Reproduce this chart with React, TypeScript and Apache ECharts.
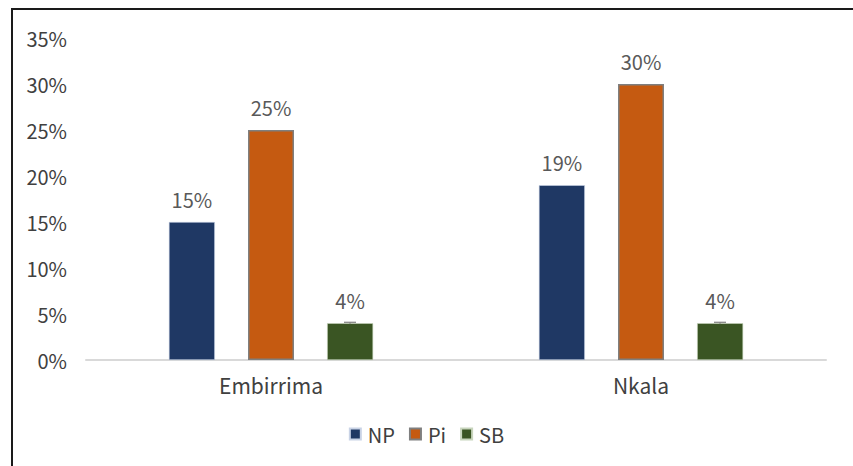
import React, { useEffect, useRef } from "react";
import * as echarts from "echarts";

const categories = ["Embirrima", "Nkala"];
const npValues = [15, 19];
const piValues = [25, 30];
const sbValues = [4, 4];
const sbErrors = [0.1, 0.1];
const yTicks = [0, 5, 10, 15, 20, 25, 30, 35];

const FONT = "'Noto Sans CJK SC', 'Noto Sans', sans-serif";

export default function App() {
  const ref = useRef<HTMLDivElement>(null);

  useEffect(() => {
    if (!ref.current) return;
    const chart = echarts.init(ref.current, undefined, { renderer: "svg" });

    const labelStyle = {
      show: true,
      position: "top" as const,
      distance: 13,
      formatter: "{c}%",
      color: "#595959",
      fontSize: 20,
      fontFamily: FONT,
    };

    chart.setOption({
      animation: false,
      backgroundColor: "#ffffff",
      graphic: [
        {
          type: "rect",
          shape: { x: 12, y: 9, width: 900, height: 500 },
          style: { fill: "none", stroke: "#1a1a1a", lineWidth: 2 },
          silent: true,
        },
      ],
      legend: {
        bottom: 17,
        left: "center",
        icon: "rect",
        itemWidth: 11,
        itemHeight: 11,
        itemGap: 14,
        textStyle: { color: "#404040", fontSize: 20, fontFamily: FONT, padding: [0, 0, 0, 2] },
        data: ["NP", "Pi", "SB"],
      },
      grid: { left: 86, right: 27, top: 38, bottom: 106 },
      xAxis: {
        type: "category",
        data: categories,
        axisLine: { lineStyle: { color: "#d9d9d9", width: 2 } },
        axisTick: { show: false },
        axisLabel: { color: "#404040", fontSize: 21, fontFamily: FONT, margin: 14 },
      },
      yAxis: {
        type: "value",
        min: yTicks[0],
        max: yTicks[yTicks.length - 1],
        interval: 5,
        splitLine: { show: false },
        axisLine: { show: false },
        axisTick: { show: false },
        axisLabel: {
          formatter: "{value}%",
          color: "#404040",
          fontSize: 20,
          fontFamily: FONT,
          margin: 19,
        },
      },
      series: [
        {
          name: "NP",
          type: "bar",
          data: npValues,
          barWidth: 46,
          barGap: "72%",
          itemStyle: { color: "#1f3864", borderColor: "#c9d3e6", borderWidth: 0.6 },
          label: labelStyle,
        },
        {
          name: "Pi",
          type: "bar",
          data: piValues,
          barWidth: 46,
          barGap: "72%",
          itemStyle: { color: "#c55a11", borderColor: "#7f7f7f", borderWidth: 1.5 },
          label: labelStyle,
        },
        {
          name: "SB",
          type: "bar",
          data: sbValues,
          barWidth: 46,
          barGap: "72%",
          itemStyle: { color: "#3a5523", borderColor: "#c8d5bd", borderWidth: 0.6 },
          label: labelStyle,
        },
        {
          name: "SB error",
          type: "custom",
          silent: true,
          z: 5,
          data: sbValues.map((v, i) => [i, v - sbErrors[i], v + sbErrors[i]]),
          renderItem: (_params: any, api: any) => {
            const idx = api.value(0);
            const lo = api.coord([idx, api.value(1)]);
            const hi = api.coord([idx, api.value(2)]);
            // SB is the third bar of each group: one bar step right of the category centre
            const x = lo[0] + 79;
            return {
              type: "group",
              children: [
                { type: "line", shape: { x1: x, y1: lo[1], x2: x, y2: hi[1] }, style: { stroke: "#7f7f7f", lineWidth: 1 } },
                { type: "line", shape: { x1: x - 6, y1: hi[1], x2: x + 6, y2: hi[1] }, style: { stroke: "#7f7f7f", lineWidth: 1.2 } },
              ],
            };
          },
        },
      ],
    });

    return () => chart.dispose();
  }, []);

  return (
    <div
      ref={ref}
      style={{ position: "fixed", left: 0, top: 0, width: 853, height: 466 }}
    />
  );
}
